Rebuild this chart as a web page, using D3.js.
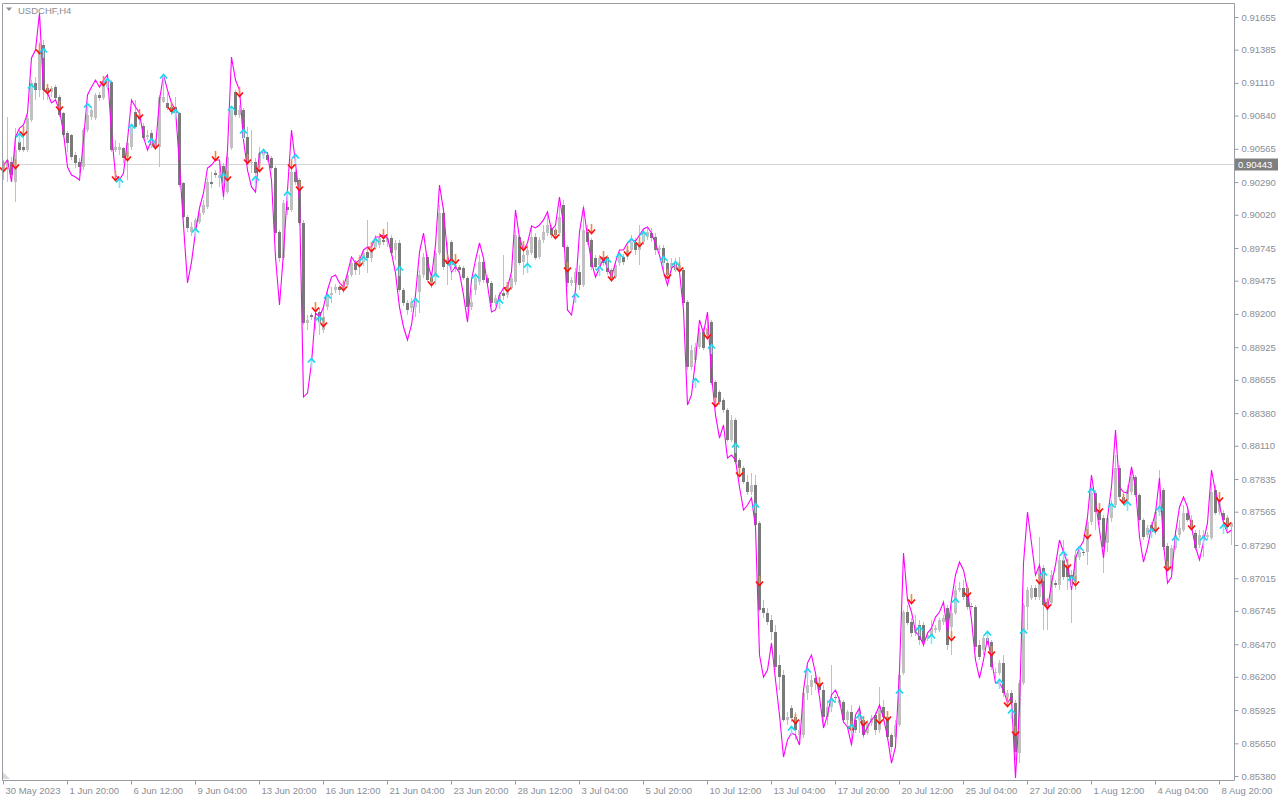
<!DOCTYPE html>
<html><head><meta charset="utf-8">
<script src="https://cdn.jsdelivr.net/npm/d3@7"></script>
<style>html,body{margin:0;padding:0;background:#fff;overflow:hidden}</style>
</head><body>
<svg id="c" width="1280" height="800"></svg>
<script>
const symbol = "USDCHF,H4";
const timeTickBars = [0,16,32,48,64,80,96,112,128,144,160,176,192,208,224,240,256,272,288,304];
const timeLabels = ["30 May 2023","1 Jun 20:00","6 Jun 12:00","9 Jun 04:00","13 Jun 20:00","16 Jun 12:00","21 Jun 04:00","23 Jun 20:00","28 Jun 12:00","3 Jul 04:00","5 Jul 20:00","10 Jul 12:00","13 Jul 04:00","17 Jul 20:00","20 Jul 12:00","25 Jul 04:00","27 Jul 20:00","1 Aug 12:00","4 Aug 04:00","8 Aug 20:00"];
const priceTicks = [0.91655,0.91385,0.91110,0.90840,0.90565,0.90290,0.90020,0.89745,0.89475,0.89200,0.88925,0.88655,0.88380,0.88110,0.87835,0.87565,0.87290,0.87015,0.86745,0.86470,0.86200,0.85925,0.85650,0.85380];
const linePrice = 0.90443;

const open = [
.90390,.90415,.90456,.90291,.90622,.90580,.90555,.90803,.91109,.91051,
.91424,.91068,.91035,.91076,.90994,.90861,.90696,.90679,.90514,.90456,
.90415,.90721,.90828,.90820,.91010,.90985,.91076,.91118,.90555,.90555,
.90572,.90498,.90580,.90870,.90803,.90754,.90663,.90696,.90580,.90580,
.90952,.90944,.90911,.90911,.90861,.90283,.90001,.89878,.89894,.89960,
.90035,.90084,.90291,.90365,.90324,.90423,.90208,.90572,.91035,.90845,
.90886,.90663,.90448,.90456,.90448,.90514,.90514,.90489,.90407,.89878,
.89662,.90084,.90059,.90374,.90307,.89952,.89125,.89191,.89150,.89216,
.89067,.89257,.89357,.89398,.89423,.89414,.89439,.89522,.89621,.89605,
.89629,.89712,.89662,.89753,.89770,.89811,.89795,.89828,.89729,.89787,
.89398,.89290,.89249,.89257,.89381,.89522,.89671,.89505,.89505,.89704,
.90035,.89646,.89795,.89580,.89588,.89580,.89497,.89257,.89398,.89464,
.89629,.89497,.89456,.89290,.89315,.89373,.89357,.89414,.89464,.89836,
.89629,.89687,.89704,.89836,.89671,.89811,.89869,.89911,.89894,.89869,
.90101,.89753,.89456,.89456,.89547,.89439,.89878,.89811,.89662,.89605,
.89671,.89671,.89563,.89505,.89621,.89671,.89671,.89729,.89795,.89729,
.89795,.89836,.89869,.89836,.89729,.89745,.89621,.89580,.89621,.89563,
.89563,.89299,.88761,.88819,.88927,.89051,.89026,.89133,.88637,.88555,
.88489,.88406,.88158,.88323,.87992,.87926,.87811,.87728,.87786,.87472,
.86769,.86728,.86670,.86570,.86298,.86215,.85843,.85942,.85868,.85719,
.85719,.86066,.86116,.86190,.86149,.86091,.85868,.85950,.86033,.85983,
.85992,.85843,.85909,.85843,.85843,.85843,.85735,.85818,.85884,.85760,
.85950,.85868,.85719,.85702,.85802,.86231,.86736,.86653,.86562,.86628,
.86628,.86521,.86546,.86587,.86587,.86653,.86769,.86612,.86728,.86918,
.86934,.86934,.86785,.86777,.86463,.86422,.86521,.86488,.86231,.86231,
.86314,.86033,.86066,.85983,.85570,.86149,.86777,.86852,.86934,.86860,
.87100,.86818,.86810,.86975,.86959,.87166,.87124,.87042,.86984,.87190,
.87232,.87232,.87480,.87720,.87579,.87513,.87306,.87513,.87620,.87926,
.87687,.87662,.87728,.87852,.87703,.87496,.87372,.87455,.87397,.87563,
.87744,.87282,.87083,.87265,.87372,.87414,.87554,.87496,.87389,.87290,
.87348,.87356,.87348,.87744,.87563,.87554,.87513,.87439];
const high = [
.90473,.90828,.90498,.90737,.90737,.90746,.90845,.91134,.91159,.91448,
.91465,.91093,.91085,.91093,.91010,.90870,.90712,.90688,.90539,.90489,
.90737,.90903,.90919,.91027,.91035,.91134,.91176,.91134,.90638,.90613,
.90580,.90613,.90762,.90969,.90886,.90779,.90721,.90721,.90638,.91010,
.91134,.91027,.90944,.90994,.90870,.90291,.90018,.89960,.89993,.90059,
.90142,.90324,.90374,.90390,.90448,.90448,.90531,.90911,.91051,.90927,
.90903,.90746,.90721,.90489,.90580,.90555,.90539,.90506,.90423,.89894,
.90142,.90142,.90431,.90390,.90324,.89977,.89191,.89208,.89233,.89249,
.89257,.89398,.89423,.89447,.89439,.89481,.89538,.89646,.89646,.89687,
.89729,.89977,.89753,.89853,.89869,.89844,.89960,.89853,.89811,.89811,
.89414,.89315,.89332,.89357,.89563,.89704,.89687,.89538,.89729,.90101,
.90084,.89795,.89811,.89629,.89605,.89596,.89514,.89398,.89522,.89687,
.89646,.89522,.89472,.89357,.89381,.89687,.89464,.89522,.89894,.89853,
.89729,.89770,.89935,.89869,.89836,.89935,.90018,.89935,.89919,.90101,
.90142,.89770,.89505,.89580,.89605,.90101,.89935,.89828,.89687,.89687,
.89696,.89687,.89580,.89629,.89712,.89696,.89770,.89853,.89828,.89935,
.89894,.89911,.89911,.89869,.89770,.89770,.89646,.89662,.89662,.89671,
.89580,.89315,.88943,.88960,.89084,.89084,.89166,.89150,.88654,.88571,
.88505,.88422,.88365,.88340,.88009,.87943,.87868,.87885,.87868,.87488,
.86835,.86769,.86711,.86628,.86380,.86256,.85909,.85967,.85909,.85843,
.86091,.86298,.86215,.86240,.86174,.86132,.86008,.86298,.86050,.86033,
.86008,.85926,.85967,.85868,.85967,.85868,.85843,.85884,.85909,.86116,
.86008,.85884,.85735,.85843,.86256,.86752,.86794,.86686,.86711,.86670,
.86653,.86570,.86670,.86628,.86686,.86711,.86794,.86794,.86959,.86984,
.87000,.86959,.86810,.86794,.86504,.86546,.86546,.86504,.86273,.86339,
.86380,.86091,.86091,.86008,.86174,.86810,.86943,.86959,.86959,.87356,
.87124,.86851,.87083,.87000,.87207,.87331,.87166,.87083,.87248,.87265,
.87248,.87513,.87744,.87744,.87620,.87538,.87538,.87662,.88034,.87951,
.87720,.87786,.87926,.87868,.87720,.87513,.87455,.87480,.87579,.87910,
.87761,.87306,.87290,.87414,.87496,.87620,.87596,.87538,.87414,.87414,
.87414,.87397,.87802,.87786,.87703,.87579,.87538,.87480];
const low = [
.90307,.90291,.90291,.90125,.90539,.90539,.90539,.90787,.90969,.90994,
.90969,.90969,.90994,.90969,.90828,.90663,.90539,.90473,.90407,.90365,
.90390,.90704,.90803,.90803,.90960,.90969,.91051,.90539,.90539,.90514,
.90448,.90307,.90555,.90737,.90762,.90638,.90638,.90572,.90555,.90415,
.90944,.90886,.90845,.90845,.90250,.89985,.89878,.89844,.89878,.89944,
.90018,.90068,.90241,.90324,.90250,.90142,.90192,.90555,.90828,.90820,
.90638,.90431,.90365,.90349,.90390,.90489,.90456,.90390,.89853,.89629,
.89646,.90018,.90043,.90266,.89935,.89109,.89067,.89150,.89067,.89026,
.89042,.89233,.89290,.89373,.89357,.89373,.89423,.89505,.89522,.89522,
.89605,.89538,.89629,.89729,.89745,.89770,.89753,.89679,.89646,.89381,
.89266,.89191,.89216,.89175,.89208,.89497,.89464,.89414,.89439,.89687,
.89563,.89439,.89481,.89547,.89538,.89481,.89233,.89233,.89357,.89439,
.89456,.89431,.89257,.89266,.89290,.89315,.89332,.89398,.89439,.89605,
.89522,.89605,.89687,.89646,.89654,.89787,.89844,.89828,.89828,.89844,
.89745,.89423,.89431,.89439,.89398,.89423,.89770,.89563,.89563,.89580,
.89596,.89522,.89464,.89489,.89596,.89605,.89646,.89712,.89687,.89605,
.89770,.89811,.89795,.89687,.89704,.89563,.89497,.89547,.89547,.89547,
.89274,.88737,.88737,.88803,.88910,.88902,.88985,.88613,.88489,.88447,
.88381,.88141,.88141,.87959,.87893,.87794,.87703,.87703,.87439,.86736,
.86686,.86628,.86504,.86256,.86091,.85826,.85802,.85826,.85678,.85678,
.85694,.86008,.86050,.86091,.86066,.85802,.85802,.85909,.85983,.85959,
.85818,.85802,.85620,.85735,.85735,.85694,.85719,.85793,.85719,.85735,
.85843,.85678,.85578,.85611,.85785,.86215,.86628,.86529,.86537,.86463,
.86446,.86496,.86504,.86562,.86570,.86628,.86422,.86380,.86711,.86901,
.86835,.86752,.86761,.86422,.86339,.86380,.86463,.86256,.86190,.86215,
.86033,.86008,.85967,.85512,.85487,.86132,.86587,.86835,.86835,.86835,
.86587,.86587,.86794,.86934,.86918,.87000,.86918,.86645,.86918,.87166,
.87199,.87124,.87455,.87414,.87455,.87058,.87232,.87480,.87596,.87662,
.87620,.87620,.87703,.87687,.87480,.87331,.87348,.87372,.87372,.87538,
.87248,.87083,.87066,.87248,.87348,.87397,.87480,.87414,.87248,.87265,
.87190,.87331,.87331,.87538,.87538,.87480,.87414,.87290];
const close = [
.90431,.90473,.90349,.90555,.90555,.90555,.90820,.91109,.91051,.91382,
.91051,.91035,.91068,.90985,.90845,.90679,.90613,.90498,.90448,.90415,
.90721,.90845,.90886,.91010,.90985,.91093,.91134,.90555,.90580,.90580,
.90489,.90613,.90746,.90746,.90845,.90655,.90679,.90597,.90622,.90994,
.90994,.90903,.90870,.90861,.90266,.90001,.89911,.89919,.89977,.90035,
.90101,.90291,.90274,.90349,.90349,.90283,.90498,.90886,.90845,.90886,
.90655,.90456,.90456,.90365,.90531,.90539,.90473,.90407,.89869,.89662,
.90117,.90059,.90374,.90291,.89952,.89125,.89150,.89175,.89175,.89133,
.89175,.89357,.89373,.89423,.89398,.89439,.89522,.89621,.89563,.89646,
.89704,.89662,.89729,.89811,.89828,.89795,.89828,.89704,.89787,.89398,
.89290,.89233,.89299,.89332,.89522,.89671,.89481,.89464,.89704,.90035,
.89588,.89613,.89605,.89605,.89563,.89497,.89257,.89299,.89497,.89629,
.89481,.89456,.89290,.89332,.89357,.89348,.89439,.89497,.89853,.89621,
.89687,.89729,.89836,.89662,.89811,.89878,.89935,.89853,.89853,.90001,
.89753,.89456,.89481,.89547,.89439,.89894,.89795,.89588,.89588,.89662,
.89621,.89547,.89497,.89605,.89687,.89629,.89729,.89795,.89729,.89795,
.89869,.89878,.89828,.89729,.89745,.89621,.89522,.89621,.89563,.89605,
.89290,.88761,.88902,.88927,.89051,.88918,.89084,.88629,.88505,.88472,
.88406,.88158,.88323,.87976,.87926,.87811,.87728,.87786,.87455,.86752,
.86728,.86653,.86570,.86281,.86198,.85843,.85868,.85859,.85760,.85760,
.86066,.86132,.86174,.86149,.86091,.85868,.85950,.86025,.86025,.86008,
.85843,.85909,.85777,.85760,.85926,.85719,.85818,.85860,.85760,.85926,
.85868,.85702,.85620,.85802,.86215,.86736,.86645,.86562,.86612,.86504,
.86488,.86546,.86603,.86603,.86670,.86686,.86463,.86728,.86918,.86934,
.86860,.86777,.86777,.86446,.86364,.86521,.86480,.86281,.86240,.86314,
.86066,.86066,.85983,.85578,.86149,.86794,.86918,.86934,.86860,.87108,
.86794,.86777,.87042,.86959,.87166,.87025,.87025,.86959,.87207,.87232,
.87224,.87480,.87720,.87563,.87496,.87273,.87513,.87620,.87926,.87687,
.87645,.87744,.87852,.87703,.87496,.87356,.87430,.87397,.87563,.87596,
.87273,.87100,.87265,.87372,.87430,.87554,.87496,.87430,.87265,.87372,
.87372,.87372,.87728,.87554,.87645,.87496,.87439,.87472];
const signalLine = [
.90431,.90473,.90291,.90663,.90737,.90762,.90861,.91316,.91382,.91688,
.91051,.91027,.90944,.90969,.90886,.90696,.90415,.90349,.90332,.90307,
.90638,.91010,.91076,.91134,.91076,.91134,.91176,.90696,.90349,.90307,
.90365,.90638,.90969,.90911,.90861,.90663,.90555,.90638,.90572,.90969,
.91176,.91051,.90944,.90886,.90431,.89935,.89456,.89629,.89878,.90076,
.90200,.90407,.90431,.90473,.90473,.90167,.90555,.91324,.91134,.91051,
.90638,.90390,.90250,.90208,.90531,.90539,.90531,.90307,.89671,.89274,
.89704,.90225,.90721,.90448,.90142,.88513,.88546,.88794,.89208,.89175,
.89257,.89398,.89505,.89522,.89456,.89423,.89538,.89671,.89621,.89646,
.89729,.89753,.89753,.89836,.89836,.89853,.89828,.89704,.89538,.89257,
.89092,.88985,.89109,.89357,.89712,.89869,.89629,.89505,.89770,.90266,
.90059,.89687,.89547,.89588,.89538,.89357,.89133,.89481,.89646,.89787,
.89662,.89439,.89216,.89233,.89357,.89414,.89423,.89547,.90059,.89828,
.89729,.89787,.89927,.89911,.89935,.89977,.90043,.89894,.89935,.90167,
.89935,.89233,.89191,.89398,.89878,.90084,.89836,.89629,.89505,.89580,
.89662,.89580,.89505,.89629,.89729,.89729,.89787,.89811,.89803,.89853,
.89902,.89919,.89869,.89778,.89687,.89547,.89439,.89580,.89605,.89547,
.89233,.88447,.88530,.88819,.89150,.89042,.89216,.88695,.88365,.88174,
.88282,.88009,.88034,.87992,.87769,.87579,.87620,.87678,.87439,.86380,
.86198,.86256,.86480,.86174,.85884,.85537,.85678,.85735,.85719,.85636,
.86091,.86314,.86380,.86231,.86033,.85777,.85884,.86050,.86091,.86008,
.85826,.85785,.85636,.85884,.85942,.85719,.85785,.85843,.85884,.85967,
.85859,.85702,.85487,.85620,.86256,.87224,.86835,.86736,.86570,.86537,
.86463,.86562,.86603,.86694,.86736,.86818,.86570,.86835,.87042,.87149,
.87083,.86918,.86670,.86339,.86190,.86339,.86521,.86339,.86149,.86149,
.86091,.85983,.86033,.85363,.85950,.87141,.87563,.87306,.87042,.87124,
.86860,.86752,.86975,.87124,.87331,.87232,.87141,.86918,.87182,.87265,
.87323,.87521,.87868,.87645,.87414,.87182,.87513,.87769,.88240,.87769,
.87728,.87720,.87935,.87769,.87356,.87149,.87273,.87439,.87554,.87844,
.87306,.86975,.87025,.87389,.87604,.87687,.87604,.87439,.87273,.87166,
.87315,.87472,.87910,.87728,.87620,.87472,.87389,.87414];
const sellBars = [0,3,5,9,11,14,25,28,31,34,38,42,53,56,59,61,64,72,74,78,80,85,89,92,95,107,111,113,126,130,138,141,147,150,152,156,159,166,169,176,178,184,189,198,204,212,215,219,221,227,237,241,247,251,253,259,261,266,268,271,274,280,288,291,297,304,306];
const sellPrices = [.90407,.90431,.90704,.91382,.91051,.90911,.91118,.90332,.90498,.90845,.90597,.90903,.90498,.90332,.91027,.90473,.90407,.90431,.90250,.89249,.89125,.89423,.89621,.89745,.89853,.89464,.89646,.89646,.89414,.89753,.89853,.89580,.89894,.89671,.89505,.89712,.89787,.89522,.89580,.89026,.88464,.87885,.86984,.85843,.86149,.85785,.85826,.85843,.85868,.86835,.86529,.86893,.86405,.85983,.85744,.87000,.86794,.87124,.86984,.87372,.87587,.87662,.87430,.87108,.87447,.87678,.87472];
const buyBars = [4,7,10,21,26,29,32,37,40,43,48,55,57,60,63,65,71,73,77,79,81,90,93,99,103,108,112,118,124,131,143,149,151,154,157,160,165,168,173,177,183,188,197,201,207,212,214,224,229,232,238,246,249,252,255,260,265,267,269,272,277,281,287,289,293,300,305];
const buyPrices = [.90663,.91068,.91366,.90911,.91118,.90291,.90737,.90622,.91151,.90861,.89878,.90332,.90886,.90696,.90307,.90531,.90183,.90489,.88803,.89150,.89332,.89646,.89795,.89563,.89299,.89505,.89605,.89497,.89290,.89588,.89340,.89563,.89629,.89671,.89795,.89853,.89646,.89605,.88637,.88918,.88100,.87604,.85760,.86240,.85992,.85777,.85860,.86066,.86587,.86521,.86818,.86546,.86149,.85901,.86562,.87042,.87207,.87000,.87248,.87728,.87604,.87620,.87397,.87579,.87331,.87331,.87430];

const FONT = "'Liberation Sans', Arial, sans-serif";
const AXIS = "#8a8e96";
const plot = {l: 2, t: 3, r: 1234, b: 780};
const x = d3.scaleLinear().domain([0, open.length - 1]).range([3, 1231]);
const y = d3.scaleLinear().domain([0.85380, 0.91655]).range([776, 17]);

const svg = d3.select("#c");
svg.append("rect").attr("width", 1280).attr("height", 800).attr("fill", "#fff");

// horizontal level line
svg.append("line").attr("x1", plot.l).attr("x2", plot.r)
  .attr("y1", Math.round(y(linePrice)) + 0.5).attr("y2", Math.round(y(linePrice)) + 0.5)
  .attr("stroke", "#d6d6d6").attr("stroke-width", 1);

const bars = d3.range(open.length);
const g = svg.append("g").attr("shape-rendering", "crispEdges");
g.selectAll("line.wick").data(bars).join("line").attr("class", "wick")
  .attr("x1", i => Math.round(x(i)) + 0.5).attr("x2", i => Math.round(x(i)) + 0.5)
  .attr("y1", i => y(high[i])).attr("y2", i => y(low[i]))
  .attr("stroke", "#c0c0c0").attr("stroke-width", 1);
g.selectAll("rect.body").data(bars).join("rect").attr("class", "body")
  .attr("x", i => Math.round(x(i)) - 1)
  .attr("width", 3)
  .attr("y", i => Math.min(y(open[i]), y(close[i])))
  .attr("height", i => Math.max(1, Math.abs(y(open[i]) - y(close[i]))))
  .attr("fill", i => close[i] >= open[i] ? "#c0c0c0" : "#7a7a7a");

// signal line
svg.append("path").datum(bars)
  .attr("d", d3.line().x(i => x(i) + 0.5).y(i => y(signalLine[i])))
  .attr("fill", "none").attr("stroke", "#ff00ff").attr("stroke-width", 1.1);

// arrows
const ag = svg.append("g");
sellBars.forEach((b, k) => {
  const cx = x(b) + 0.5, cy = y(sellPrices[k]);
  ag.append("path").attr("d", `M${cx},${cy-6}V${cy+3}`).attr("stroke", "#f08a3c").attr("stroke-width", 1.6);
  ag.append("path").attr("d", `M${cx-3.5},${cy-0.5}L${cx},${cy+3.5}L${cx+3.5},${cy-0.5}`)
    .attr("fill", "none").attr("stroke", "#ff1010").attr("stroke-width", 1.7);
});
buyBars.forEach((b, k) => {
  const cx = x(b) + 0.5, cy = y(buyPrices[k]);
  ag.append("path").attr("d", `M${cx},${cy+6}V${cy-3}`).attr("stroke", "#7fe8f5").attr("stroke-width", 1.6);
  ag.append("path").attr("d", `M${cx-3.5},${cy+0.5}L${cx},${cy-3.5}L${cx+3.5},${cy+0.5}`)
    .attr("fill", "none").attr("stroke", "#1ad8ec").attr("stroke-width", 1.7);
});

// frame
svg.append("path")
  .attr("d", `M${plot.l+0.5},${plot.b+0.5}V${plot.t+0.5}H${plot.r+0.5}V${plot.b+0.5}H${plot.l+0.5}`)
  .attr("fill", "none").attr("stroke", "#9a9ca4").attr("stroke-width", 1);

// y axis
const ya = svg.append("g").attr("transform", `translate(${plot.r + 0.5},0)`)
  .call(d3.axisRight(y).tickValues(priceTicks).tickFormat(d3.format(".5f")).tickSize(4).tickPadding(3));
ya.select(".domain").remove();
ya.selectAll("line").attr("stroke", "#9a9ca4");
ya.selectAll("text").attr("fill", AXIS).style("font-family", FONT).style("font-size", "9.5px");

// x axis
const xa = svg.append("g").attr("transform", `translate(0,${plot.b + 0.5})`)
  .call(d3.axisBottom(x).tickValues(timeTickBars).tickFormat((d, k) => timeLabels[k]).tickSize(4).tickPadding(3));
xa.select(".domain").remove();
xa.selectAll("line").attr("stroke", "#9a9ca4");
xa.selectAll("text").attr("fill", AXIS).attr("text-anchor", "start").attr("x", 2)
  .style("font-family", FONT).style("font-size", "9.5px");

// current level label
const ly = Math.round(y(linePrice));
svg.append("rect").attr("x", plot.r + 1).attr("y", ly - 5.5).attr("width", 43).attr("height", 12).attr("fill", "#7f7f7f");
svg.append("text").attr("x", plot.r + 4).attr("y", ly + 3.5).text(d3.format(".5f")(linePrice))
  .attr("fill", "#fff").style("font-family", FONT).style("font-size", "9.5px");

// title
svg.append("path").attr("d", "M6,7.5L12,7.5L9,11Z").attr("fill", AXIS);
svg.append("text").attr("x", 18).attr("y", 14).text(symbol)
  .attr("fill", AXIS).style("font-family", FONT).style("font-size", "9.5px");
svg.append("path").attr("d", "M3,772L3,779L10,779Z").attr("fill", "#d8d8d8");
</script>
</body></html>
